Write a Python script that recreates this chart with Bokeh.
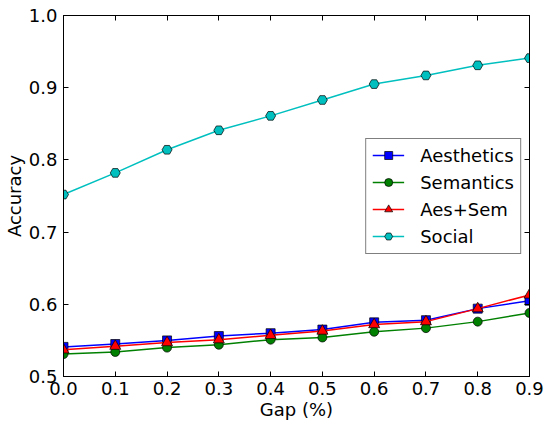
from bokeh.plotting import figure
from bokeh.models import LinearAxis, Range1d, FixedTicker, Legend, LegendItem, NumeralTickFormatter
from bokeh.embed import file_html
from bokeh.resources import INLINE

gap = [0.0, 0.1, 0.2, 0.3, 0.4, 0.5, 0.6, 0.7, 0.8, 0.9]
aesthetics = [0.541, 0.545, 0.550, 0.556, 0.560, 0.565, 0.575, 0.578, 0.594, 0.605]
semantics = [0.531, 0.534, 0.540, 0.544, 0.551, 0.554, 0.562, 0.567, 0.576, 0.588]
aes_sem = [0.537, 0.542, 0.547, 0.551, 0.557, 0.563, 0.572, 0.576, 0.594, 0.613]
social = [0.752, 0.782, 0.814, 0.841, 0.861, 0.883, 0.905, 0.917, 0.931, 0.941]

x_ticks = [0.0, 0.1, 0.2, 0.3, 0.4, 0.5, 0.6, 0.7, 0.8, 0.9]
y_ticks = [0.5, 0.6, 0.7, 0.8, 0.9, 1.0]

FONT = "DejaVu Sans"
FS = "18px"

p = figure(width=547, height=422, output_backend="svg", toolbar_location=None,
           x_range=Range1d(0.0, 0.9), y_range=Range1d(0.5, 1.0),
           min_border_left=61, min_border_right=18, min_border_top=15, min_border_bottom=44,
           x_axis_label="Gap (%)", y_axis_label="Accuracy")
p.xgrid.visible = False
p.ygrid.visible = False
p.outline_line_color = "black"
p.outline_line_width = 1
p.outline_line_alpha = 1
p.background_fill_color = "white"
p.border_fill_color = "white"

def style_axis(ax, ticks, show_labels):
    ax.ticker = FixedTicker(ticks=ticks)
    ax.formatter = NumeralTickFormatter(format="0.0")
    ax.major_tick_in = 5
    ax.major_tick_out = 0
    ax.minor_tick_in = 0
    ax.minor_tick_out = 0
    ax.major_tick_line_color = "black"
    ax.axis_line_color = "black"
    ax.major_label_text_font = FONT
    if show_labels:
        ax.major_label_text_color = "black"
        ax.major_label_text_font_size = FS
        ax.major_label_standoff = 5
    else:
        ax.major_label_text_color = None
        ax.major_label_text_font_size = "1px"
        ax.major_label_standoff = 0
        ax.axis_label = None

style_axis(p.xaxis[0], x_ticks, True)
style_axis(p.yaxis[0], y_ticks, True)
p.yaxis[0].major_label_standoff = 6
p.xaxis[0].axis_label_text_font = FONT
p.xaxis[0].axis_label_text_font_size = FS
p.xaxis[0].axis_label_text_font_style = "normal"
p.xaxis[0].axis_label_text_color = "black"
p.xaxis[0].axis_label_standoff = 1
p.yaxis[0].axis_label_text_font = FONT
p.yaxis[0].axis_label_text_font_size = FS
p.yaxis[0].axis_label_text_font_style = "normal"
p.yaxis[0].axis_label_text_color = "black"
p.yaxis[0].axis_label_standoff = 1

top = LinearAxis()
style_axis(top, x_ticks, False)
p.add_layout(top, "above")
right = LinearAxis()
style_axis(right, y_ticks, False)
p.add_layout(right, "right")

series = [
    ("Aesthetics", aesthetics, "#0000ff", "square", 9),
    ("Semantics", semantics, "#008000", "circle", 9),
    ("Aes+Sem", aes_sem, "#ff0000", "triangle", 11),
    ("Social", social, "#00bfbf", "hex", 10),
]

items = []
for name, vals, color, marker, size in series:
    ln = p.line(gap, vals, line_color=color, line_width=1.5)
    sc = p.scatter(gap, vals, marker=marker, size=size, fill_color=color,
                   line_color="black", line_width=0.7)
    items.append(LegendItem(label=name, renderers=[ln, sc]))

legend = Legend(items=items, location="center_right")
legend.margin = 8
legend.padding = 6
legend.spacing = 6
legend.label_height = 20
legend.glyph_height = 20
legend.glyph_width = 32
legend.label_standoff = 16
legend.label_text_font = FONT
legend.label_text_font_size = FS
legend.label_text_color = "black"
legend.border_line_color = "black"
legend.border_line_width = 1
legend.background_fill_color = "white"
legend.background_fill_alpha = 1
p.add_layout(legend, "center")

open("out.html", "w").write(file_html(p, INLINE))
